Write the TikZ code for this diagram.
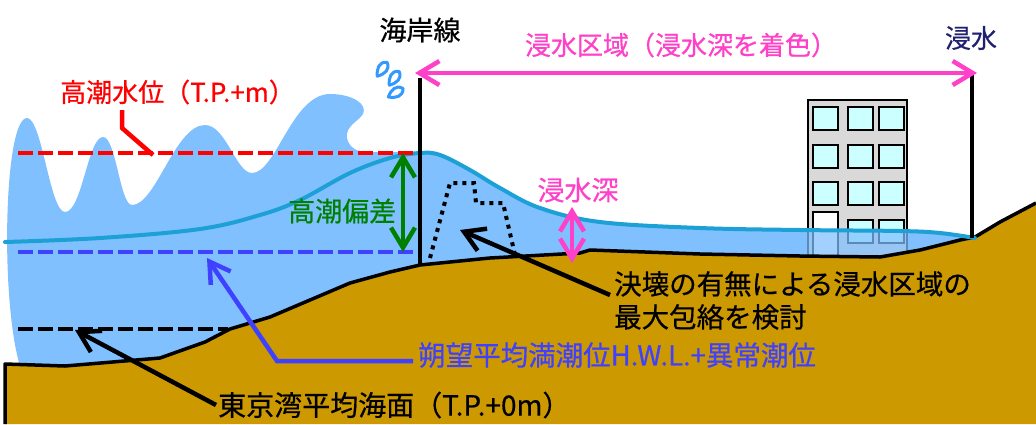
\documentclass[tikz,border=0pt]{standalone}
\usepackage{fontspec}
\newfontfamily\jp[FakeBold=0.6]{Noto Sans CJK JP}
\usetikzlibrary{arrows.meta}
\definecolor{waterblue}{RGB}{128,192,255}
\definecolor{surf}{RGB}{28,160,214}
\definecolor{soil}{RGB}{204,153,0}
\definecolor{hwl}{RGB}{64,64,255}
\definecolor{depthpink}{RGB}{255,64,200}
\definecolor{navy}{RGB}{32,32,112}
\definecolor{bldg}{RGB}{217,217,217}
\definecolor{glass}{RGB}{204,255,255}
\definecolor{dropblue}{RGB}{51,153,255}
\definecolor{tgreen}{RGB}{0,128,0}
\begin{document}
\begin{tikzpicture}[x=1pt,y=-1pt,
  lbl/.style={inner sep=0pt, font=\jp\fontsize{26}{33}\selectfont},
  lblsize/.style={font=\jp\fontsize{#1}{33}\selectfont},
  barb/.style={-{Straight Barb[length=20pt,width=24pt]}},
  dbarb/.style={{Straight Barb[length=20pt,width=24pt]}-{Straight Barb[length=20pt,width=24pt]}},
  level/.style={line width=4pt, dash pattern=on 15pt off 5pt},
  leader/.style={line width=4.5pt, line join=miter},
  winbox/.style={fill=glass, draw=black, line width=2pt},
  droplet/.pic={\draw[dropblue, line width=3pt, fill=white, line join=round]
    (0,-10) .. controls (5,-4) and (7,3) .. (0,7) .. controls (-7,3) and (-5,-4) .. (0,-10) -- cycle;}]
\useasboundingbox (0,0) rectangle (1036,424);

% sea on the seaward side, wave profile on top
\fill[waterblue] (20,366)
  .. controls (0,300) and (4,118) .. (27,118)
  .. controls (42,118) and (50,212) .. (65,212)
  .. controls (82,212) and (88,137) .. (103,137)
  .. controls (116,137) and (120,205) .. (132,205)
  .. controls (156,205) and (175,125) .. (205,125)
  .. controls (226,125) and (236,173) .. (252,173)
  .. controls (276,173) and (292,94) .. (330,94)
  .. controls (352,94) and (368,104) .. (363,114)
  .. controls (359,121) and (345,126) .. (347,138)
  .. controls (349,148) and (358,152) .. (366,152)
  -- (420,152) -- (420,290) -- (300,400) -- (20,400) -- cycle;

% flooded land behind the seawall
\fill[waterblue] plot[smooth, tension=0.6] coordinates {(420,153) (440,155) (470,170) (500,188) (540,208) (600,222) (700,228) (800,230) (900,231) (940,233) (975,238)}
  -- (960,240) -- (920,250) -- (880,257) -- (800,256) -- (700,254) -- (590,250) -- (580,253) -- (490,258) -- (420,265) -- cycle;

% building
\draw[fill=bldg, line width=2pt] (808,100) rectangle (907,258);
\foreach \yy in {107,145,182} {
  \foreach \xx in {813,848,879} {
    \draw[winbox] (\xx,\yy) rectangle ++(25,23);
  }
}
\draw[winbox] (848,220) rectangle ++(25,23);
\draw[winbox] (879,220) rectangle ++(25,23);
\draw[fill=white, draw=black, line width=2pt] (813,212) rectangle (838,258);

% water seen over the building
\begin{scope}
  \clip (806,98) rectangle (909,260);
  \fill[waterblue, opacity=0.72] plot[smooth, tension=0.6] coordinates {(700,228) (800,230) (900,231) (940,233)} -- (940,260) -- (700,260) -- cycle;
\end{scope}

% ground
\fill[soil] (5,424) -- (5,364) -- (65,366) -- (160,358) -- (205,342) -- (230,329) -- (270,317) -- (350,283) -- (390,272) -- (420,265) -- (490,258) -- (580,253) -- (590,250) -- (700,254) -- (800,256) -- (880,257) -- (920,250) -- (960,240) -- (975,237) -- (1000,222) -- (1036,203) -- (1036,424) -- cycle;
\draw[line width=3.5pt, line join=round] (5,424) -- (5,364) -- (65,366) -- (160,358) -- (205,342) -- (230,329) -- (270,317) -- (350,283) -- (390,272) -- (420,265) -- (490,258) -- (580,253) -- (590,250) -- (700,254) -- (800,256) -- (880,257) -- (920,250) -- (960,240) -- (975,237) -- (1000,222) -- (1036,203);

% water surface
\draw[surf, line width=4pt, line cap=round] plot[smooth, tension=0.6] coordinates {(5,242) (100,238) (200,229) (260,215) (300,200) (350,173) (390,158) (420,153) (440,155) (470,170) (500,188) (540,208) (600,222) (700,228) (800,230) (900,231) (940,233) (975,238)};

% reference levels
\draw[red, level] (18,153) -- (420,153);
\draw[hwl, level] (18,252) -- (420,252);
\draw[black, level] (18,329) -- (228,329);

% seawall and inland limit
\draw[line width=4pt] (420,78) -- (420,265);
\draw[line width=4pt] (972,73) -- (972,238);

% breach outline
\draw[line width=4pt, dash pattern=on 4pt off 5pt] (430,258) -- (450,183) -- (474,183) -- (476,203) -- (503,203) -- (515,255);

% spray
\pic[rotate=145] at (383,68) {droplet};
\pic[rotate=145] at (395,77) {droplet};
\pic[rotate=120] at (397,92) {droplet};

% labels
\node[lbl, lblsize=27, anchor=center] (coast) at (420,30) {海岸線};
\node[lbl, anchor=center, text=depthpink] (areaLbl) at (681,45) {浸水区域（浸水深を着色）};
\node[lbl, anchor=center, text=navy] (limitLbl) at (971,38) {浸水};
\node[lbl, anchor=west, text=red] (hhwLbl) at (60,92) {高潮水位（T.P.+m）};
\node[lbl, lblsize=27, anchor=west, text=tgreen] (surgeLbl) at (288,211) {高潮偏差};
\node[lbl, lblsize=27, anchor=center, text=depthpink] (depthLbl) at (578,190) {浸水深};
\node[lbl, lblsize=27.5, anchor=north west, align=left] (breachLbl) at (614,271) {決壊の有無による浸水区域の\\最大包絡を検討};
\node[lbl, lblsize=27.5, anchor=west, text=hwl] (hwlLbl) at (418,355) {朔望平均満潮位H.W.L.+異常潮位};
\node[lbl, lblsize=28, anchor=west] (tpLbl) at (218,405) {東京湾平均海面（T.P.+0m）};

% connector end points
\coordinate (areaL) at (415,73);
\coordinate (areaR) at (977,73);
\coordinate (surgeTop) at (403,153);
\coordinate (surgeBot) at (403,252);
\coordinate (depthTop) at (572,207);
\coordinate (depthBot) at (572,263);
\coordinate (hhwA) at (122,110);
\coordinate (hhwB) at (122,128);
\coordinate (hhwC) at (153,155);
\coordinate (breachA) at (610,295);
\coordinate (breachTip) at (460,230);
\coordinate (hwlA) at (413,361);
\coordinate (hwlB) at (277,361);
\coordinate (hwlTip) at (207,258);
\coordinate (tpA) at (216,405);
\coordinate (tpTip) at (75,330);

% connectors
\draw[depthpink, line width=4.5pt, dbarb] (areaL) -- (areaR);
\draw[tgreen, line width=4.5pt, dbarb] (surgeTop) -- (surgeBot);
\draw[depthpink, line width=4.5pt, dbarb] (depthTop) -- (depthBot);
\draw[red, leader] (hhwA) -- (hhwB) -- (hhwC);
\draw[black, leader, barb] (breachA) -- (breachTip);
\draw[hwl, leader, barb] (hwlA) -- (hwlB) -- (hwlTip);
\draw[black, leader, barb] (tpA) -- (tpTip);
\end{tikzpicture}
\end{document}
